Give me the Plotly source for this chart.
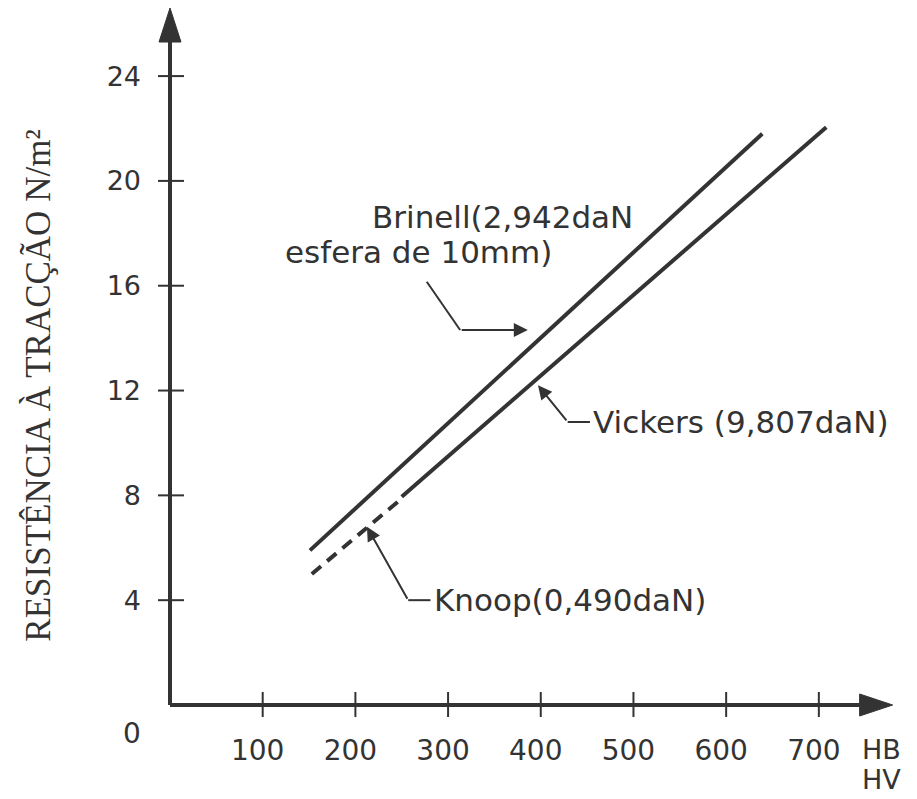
import plotly.graph_objects as go

# ---- data ----
brinell_x = [151, 639]
brinell_y = [5.9, 21.8]
vickers_x = [250, 708]
vickers_y = [7.95, 22.05]
knoop_x = [153, 249]
knoop_y = [5.0, 7.85]

x_ticks = [100, 200, 300, 400, 500, 600, 700]
y_ticks = [4, 8, 12, 16, 20, 24]
y_tick_text = ["4", "8", "12", "16", "20", "24"]

XMAX = 780
YMAX = 26.56
INK = "#333333"
SANS = "DejaVu Sans"
SERIF = "Liberation Serif"

def xp(v):
    return v / XMAX

def yp(v):
    return v / YMAX

fig = go.Figure()
fig.add_trace(go.Scatter(x=brinell_x, y=brinell_y, mode="lines",
                         line=dict(color=INK, width=4), hoverinfo="skip"))
fig.add_trace(go.Scatter(x=vickers_x, y=vickers_y, mode="lines",
                         line=dict(color=INK, width=4), hoverinfo="skip"))
fig.add_trace(go.Scatter(x=knoop_x, y=knoop_y, mode="lines",
                         line=dict(color=INK, width=4, dash="12px,8px"), hoverinfo="skip"))

shapes = []
P = dict(xref="paper", yref="paper")
# axis lines
shapes.append(dict(type="line", **P, x0=0, y0=0, x1=0, y1=yp(25.3),
                   line=dict(color=INK, width=4)))
shapes.append(dict(type="line", **P, x0=0, y0=0, x1=xp(744), y1=0,
                   line=dict(color=INK, width=4)))
# arrowheads
shapes.append(dict(type="path", **P, xsizemode="pixel", ysizemode="pixel",
                   xanchor=0, yanchor=yp(25.3), path="M-11,0 L11,0 L0,34 Z",
                   fillcolor=INK, line=dict(color=INK, width=1)))
shapes.append(dict(type="path", **P, xsizemode="pixel", ysizemode="pixel",
                   xanchor=xp(744), yanchor=0, path="M0,-11 L0,11 L33,0 Z",
                   fillcolor=INK, line=dict(color=INK, width=1)))
# tick crosses
for v in y_ticks:
    shapes.append(dict(type="line", **P, xsizemode="pixel",
                       xanchor=0, x0=-12, x1=14, y0=yp(v), y1=yp(v),
                       line=dict(color=INK, width=2)))
for v in x_ticks:
    shapes.append(dict(type="line", **P, ysizemode="pixel",
                       yanchor=0, y0=-12, y1=13, x0=xp(v), x1=xp(v),
                       line=dict(color=INK, width=2)))
# leader lines (non-arrow parts)
shapes.append(dict(type="line", xref="x", yref="y", x0=277, y0=16.15, x1=313, y1=14.31,
                   line=dict(color=INK, width=2)))
shapes.append(dict(type="line", xref="x", yref="y", x0=453, y0=10.8, x1=429, y1=10.8,
                   line=dict(color=INK, width=2)))
shapes.append(dict(type="line", xref="x", yref="y", x0=281, y0=4.0, x1=257, y1=4.0,
                   line=dict(color=INK, width=2)))

annotations = []
def txt(x, y, s, size=31, xanchor="left", font=SANS, ref="x"):
    annotations.append(dict(x=x, y=y, xref="x" if ref == "x" else "paper",
                            yref="y" if ref == "x" else "paper", text=s, showarrow=False,
                            xanchor=xanchor, yanchor="middle",
                            font=dict(family=font, size=size, color=INK)))

txt(216, 18.63, "Brinell(2,942daN")
txt(122, 17.29, "esfera de 10mm)")
txt(454, 10.8, "Vickers (9,807daN)")
txt(283, 4.0, "Knoop(0,490daN)")
txt(xp(-41), yp(-1.07), "0", size=28, xanchor="center", ref="paper")
txt(xp(744), yp(-1.7), "HB", size=27, ref="paper")
txt(xp(744), yp(-2.85), "HV", size=27, ref="paper")

# arrow leaders
def arrow(x_tip, y_tip, x_from, y_from):
    annotations.append(dict(x=x_tip, y=y_tip, ax=x_from, ay=y_from, xref="x", yref="y",
                            axref="x", ayref="y", text="", showarrow=True,
                            arrowhead=2, arrowsize=1.4, arrowwidth=2, arrowcolor=INK))

arrow(386, 14.31, 313, 14.31)
arrow(397, 12.2, 429, 10.8)
arrow(212.5, 6.8, 257, 4.0)

# y axis title
annotations.append(dict(x=xp(-142), y=yp(12.2), xref="paper", yref="paper",
                        xanchor="center", yanchor="middle",
                        text="RESISTÊNCIA À TRACÇÃO N/m²", showarrow=False,
                        textangle=-90, font=dict(family=SERIF, size=35, color=INK)))

fig.update_layout(
    width=917, height=799,
    margin=dict(l=162, r=32, t=1, b=102),
    paper_bgcolor="white", plot_bgcolor="white",
    showlegend=False,
    shapes=shapes, annotations=annotations,
    xaxis=dict(range=[0, XMAX], showgrid=False, zeroline=False, showline=False,
               tickmode="array", tickvals=x_ticks, ticktext=[str(v) for v in x_ticks],
               ticks="", ticklabelstandoff=26, ticklabelshift=-5,
               tickfont=dict(family=SANS, size=28, color=INK)),
    yaxis=dict(range=[0, YMAX], showgrid=False, zeroline=False, showline=False,
               tickmode="array", tickvals=y_ticks, ticktext=y_tick_text,
               ticks="", ticklabelstandoff=28,
               tickfont=dict(family=SANS, size=27, color=INK)),
)

fig.write_html("out.html")
